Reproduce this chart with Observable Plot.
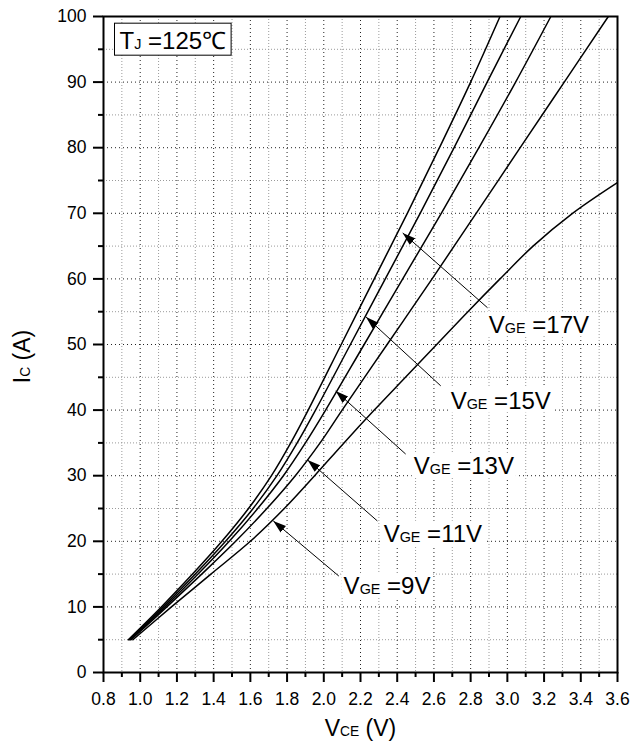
<!DOCTYPE html>
<html>
<head>
<meta charset="utf-8">
<script src="https://cdn.jsdelivr.net/npm/d3@7"></script>
<script src="https://cdn.jsdelivr.net/npm/@observablehq/plot@0.6"></script>
<style>
  html, body { margin: 0; padding: 0; background: #fff; }
  #chart svg { display: block; }
</style>
</head>
<body>
<div id="chart"></div>
<script>
// ---------- data ----------
const seriesNames = ["VGE =17V", "VGE =15V", "VGE =13V", "VGE =11V", "VGE =9V"];

// collector current levels (A) at which V_CE was read for the 17/15/13/11 V curves
const currentLevels = [5, 10, 15, 20, 25, 30, 35, 40, 50, 60, 70, 80, 90, 100];
const vce17 = [0.935, 1.115, 1.285, 1.445, 1.59, 1.715, 1.82, 1.915, 2.095, 2.275, 2.455, 2.63, 2.80, 2.96];
const vce15 = [0.94, 1.125, 1.30, 1.465, 1.615, 1.745, 1.855, 1.955, 2.145, 2.335, 2.525, 2.71, 2.89, 3.073];
const vce13 = [0.945, 1.135, 1.315, 1.485, 1.64, 1.78, 1.90, 2.01, 2.22, 2.43, 2.64, 2.845, 3.045, 3.237];
const vce11 = [0.95, 1.145, 1.335, 1.52, 1.69, 1.845, 1.98, 2.10, 2.345, 2.59, 2.83, 3.07, 3.31, 3.55];
// the 9 V curve leaves through the right edge
const current9 = [5, 10, 15, 20, 25, 30, 35, 40, 45, 50, 55, 60, 65, 70, 74.7];
const vce9 = [0.96, 1.17, 1.385, 1.60, 1.785, 1.95, 2.11, 2.275, 2.445, 2.615, 2.785, 2.96, 3.14, 3.355, 3.6];

// annotation arrows: tip on the curve, tail near the label
const arrowTipV = [2.43, 2.23, 2.065, 1.912, 1.725];
const arrowTipI = [67.0, 54.2, 42.9, 32.4, 23.1];
const arrowTailV = [2.892, 2.637, 2.446, 2.292, 2.082];
const arrowTailI = [55.6, 43.7, 33.3, 23.1, 14.7];
const labelV = [2.899, 2.691, 2.490, 2.326, 2.108];
const labelI = [53.0, 41.4, 31.5, 21.1, 13.2];

const conditionText = "TJ =125℃";
const xTitle = "VCE (V)";
const yTitle = "IC (A)";

const majorX = [0.8, 1.0, 1.2, 1.4, 1.6, 1.8, 2.0, 2.2, 2.4, 2.6, 2.8, 3.0, 3.2, 3.4, 3.6];
const minorX = [0.9, 1.1, 1.3, 1.5, 1.7, 1.9, 2.1, 2.3, 2.5, 2.7, 2.9, 3.1, 3.3, 3.5];
const majorY = [0, 10, 20, 30, 40, 50, 60, 70, 80, 90, 100];
const minorY = [5, 15, 25, 35, 45, 55, 65, 75, 85, 95];

// ---------- build tables ----------
const curveDefs = [
  {name: seriesNames[0], I: currentLevels, V: vce17},
  {name: seriesNames[1], I: currentLevels, V: vce15},
  {name: seriesNames[2], I: currentLevels, V: vce13},
  {name: seriesNames[3], I: currentLevels, V: vce11},
  {name: seriesNames[4], I: current9, V: vce9}
];
const rows = curveDefs.flatMap(c => c.V.map((v, i) => ({vge: c.name, vce: v, ic: c.I[i]})));
const notes = seriesNames.map((n, i) => ({
  name: n, tipV: arrowTipV[i], tipI: arrowTipI[i],
  tailV: arrowTailV[i], tailI: arrowTailI[i], lv: labelV[i], li: labelI[i]
}));

function filledArrow(color) {
  const ns = "http://www.w3.org/2000/svg";
  const m = document.createElementNS(ns, "marker");
  m.setAttribute("viewBox", "-13 -4.5 13 9");
  m.setAttribute("markerWidth", "13");
  m.setAttribute("markerHeight", "9");
  m.setAttribute("markerUnits", "userSpaceOnUse");
  m.setAttribute("orient", "auto");
  m.setAttribute("refX", "0");
  m.setAttribute("refY", "0");
  const p = document.createElementNS(ns, "path");
  p.setAttribute("d", "M-13,-4.2L0,0L-13,4.2Z");
  p.setAttribute("fill", color);
  p.setAttribute("stroke", "none");
  m.appendChild(p);
  return m;
}

const fmt = d3.format(".1f");

const chart = Plot.plot({
  width: 642,
  height: 743,
  marginTop: 16,
  marginLeft: 103,
  marginRight: 25,
  marginBottom: 71,
  style: {fontFamily: "'Liberation Sans', Arial, Helvetica, sans-serif", fontSize: "17px", background: "#fff", color: "#000"},
  x: {domain: [0.8, 3.6]},
  y: {domain: [0, 100]},
  marks: [
    Plot.gridX(minorX, {stroke: "#9a9a9a", strokeOpacity: 1, strokeWidth: 1, strokeDasharray: "1,2"}),
    Plot.gridY(minorY, {stroke: "#9a9a9a", strokeOpacity: 1, strokeWidth: 1, strokeDasharray: "1,2"}),
    Plot.gridX(majorX, {stroke: "#222", strokeOpacity: 1, strokeWidth: 1, strokeDasharray: "1,3"}),
    Plot.gridY(majorY, {stroke: "#222", strokeOpacity: 1, strokeWidth: 1, strokeDasharray: "1,3"}),
    Plot.line(rows, {x: "vce", y: "ic", z: "vge", curve: "catmull-rom", stroke: "#000", strokeWidth: 1.5, clip: true}),
    Plot.link(notes, {x1: "tailV", y1: "tailI", x2: "tipV", y2: "tipI", stroke: "#000", strokeWidth: 1, markerEnd: filledArrow}),
    Plot.text(notes, {x: "lv", y: "li", text: "name", textAnchor: "start", lineAnchor: "middle", fontSize: 24, fill: "#000"}),
    Plot.text([conditionText], {frameAnchor: "top-left", textAnchor: "start", lineAnchor: "middle", dx: 16, dy: 25, fontSize: 24, fill: "#000"}),
    Plot.text([xTitle], {frameAnchor: "bottom", textAnchor: "middle", lineAnchor: "middle", dy: 56, fontSize: 23, fill: "#000"}),
    Plot.text([yTitle], {frameAnchor: "left", textAnchor: "middle", lineAnchor: "middle", rotate: -90, dx: -81, dy: 12, fontSize: 23, fill: "#000"}),
    Plot.axisX(minorX, {tickSize: 5, tickFormat: () => "", strokeWidth: 2, label: null}),
    Plot.axisY(minorY, {tickSize: 5, tickFormat: () => "", strokeWidth: 2, label: null}),
    Plot.axisX(majorX, {tickSize: 10, tickPadding: 10, tickFormat: fmt, strokeWidth: 2, fontSize: 17.5, label: null}),
    Plot.axisY(majorY, {tickSize: 10, tickPadding: 7, strokeWidth: 2, fontSize: 17.5, label: null}),
    Plot.frame({stroke: "#000", strokeWidth: 2})
  ]
});

document.getElementById("chart").append(chart);

// ---------- mixed-size (subscript) text and label boxes ----------
const NS = "http://www.w3.org/2000/svg";
chart.querySelectorAll("text").forEach(t => {
  const s = t.textContent;
  const m = /^([A-Z])([A-Z]+)( .*)$/.exec(s);
  if (!m) return;
  const fs = parseFloat(getComputedStyle(t).fontSize) || 20;
  while (t.firstChild) t.removeChild(t.firstChild);
  const a = document.createElementNS(NS, "tspan"); a.textContent = m[1];
  const b = document.createElementNS(NS, "tspan"); b.textContent = m[2];
  b.setAttribute("font-size", (fs * 0.6).toFixed(1));
  const c = document.createElementNS(NS, "tspan"); c.textContent = m[3];
  t.append(a, b, c);
  const isNote = seriesNames.includes(s);
  const isCond = s === conditionText;
  if (isNote || isCond) {
    const bb = t.getBBox();
    const r = document.createElementNS(NS, "rect");
    if (isNote) {
      r.setAttribute("x", bb.x - 2); r.setAttribute("y", bb.y + 1);
      r.setAttribute("width", bb.width + 4); r.setAttribute("height", bb.height - 2);
      r.setAttribute("fill", "#fff");
    } else {
      r.setAttribute("x", bb.x - 5); r.setAttribute("y", bb.y - 4);
      r.setAttribute("width", bb.width + 10); r.setAttribute("height", bb.height + 5);
      r.setAttribute("fill", "#fff"); r.setAttribute("stroke", "#000"); r.setAttribute("stroke-width", "1");
    }
    const tr = t.getAttribute("transform");
    if (tr) r.setAttribute("transform", tr);
    t.parentNode.insertBefore(r, t);
  }
});
</script>
</body>
</html>
